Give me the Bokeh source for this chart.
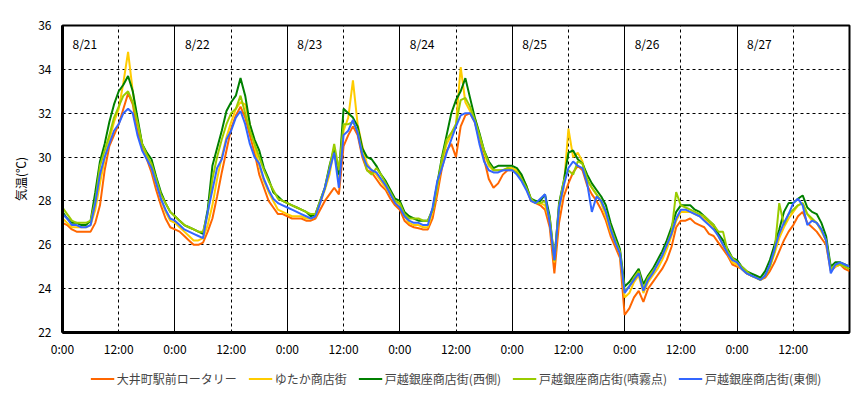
from bokeh.plotting import figure
from bokeh.models import Legend, LegendItem, FixedTicker, Grid, ColumnDataSource
from bokeh.layouts import column
from bokeh.core.properties import value
from bokeh.embed import file_html
from bokeh.resources import INLINE

FONT = "Noto Sans CJK JP"

# hours since 8/21 0:00
hours = list(range(0, 169))

days = ["8/21", "8/22", "8/23", "8/24", "8/25", "8/26", "8/27"]
tick_hours = list(range(0, 157, 12))
tick_labels = ["0:00" if h % 24 == 0 else "12:00" for h in tick_hours]

series_names = ["大井町駅前ロータリー", "ゆたか商店街", "戸越銀座商店街(西側)", "戸越銀座商店街(噴霧点)", "戸越銀座商店街(東側)"]
series_colors = ["#FF6600", "#FFCC00", "#008000", "#99CC00", "#3366FF"]

oimachi = [
    27.0, 26.9, 26.7, 26.6, 26.6, 26.6, 26.6, 27.0, 27.8, 29.4, 30.5, 31.0, 31.5, 32.2, 32.9, 32.4, 31.2, 30.5, 29.9, 29.3, 28.5, 27.8, 27.2, 26.8,
    26.7, 26.6, 26.4, 26.2, 26.0, 26.0, 26.1, 26.6, 27.2, 28.2, 29.3, 30.3, 31.3, 31.9, 32.3, 31.8, 31.0, 30.2, 29.2, 28.6, 28.0, 27.7, 27.4, 27.4,
    27.3, 27.2, 27.2, 27.2, 27.1, 27.1, 27.2, 27.6, 28.0, 28.3, 28.6, 28.3, 30.5, 31.0, 31.4, 31.0, 30.0, 29.4, 29.3, 29.0, 28.7, 28.5, 28.1, 27.8,
    27.6, 27.1, 26.9, 26.8, 26.75, 26.7, 26.7, 27.2, 28.3, 29.5, 30.3, 30.6, 30.0, 31.4, 31.9, 32.0, 31.6, 30.8, 29.9, 29.0, 28.6, 28.8, 29.2, 29.4,
    29.4, 29.3, 29.0, 28.6, 28.0, 27.9, 27.8, 27.6, 26.8, 24.7, 27.0, 28.2, 28.8, 29.3, 29.6, 29.4, 28.7, 28.3, 28.0, 27.6, 27.1, 26.4, 25.9, 25.4,
    22.8, 23.1, 23.6, 23.9, 23.4, 24.0, 24.3, 24.6, 24.9, 25.3, 25.9, 26.8, 27.1, 27.1, 27.2, 27.0, 26.9, 26.8, 26.5, 26.4, 26.1, 25.8, 25.5, 25.1,
    25.0, 24.9, 24.7, 24.6, 24.5, 24.4, 24.5, 24.8, 25.2, 25.7, 26.2, 26.6, 26.9, 27.3, 27.5, 27.0, 26.8, 26.6, 26.3, 26.0, 24.8, 25.0, 25.1, 24.9,
    24.8,
]

yutaka = [
    27.2, 27.0, 26.8, 26.8, 26.8, 26.8, 26.9, 27.6, 28.8, 29.9, 30.8, 31.6, 32.2, 33.4, 34.8, 33.0, 31.6, 30.6, 30.0, 29.5, 28.8, 28.1, 27.5, 27.1,
    27.0, 26.8, 26.6, 26.4, 26.2, 26.2, 26.3, 26.9, 27.8, 29.0, 30.0, 30.9, 31.6, 32.2, 32.5, 32.4, 31.5, 30.5, 29.6, 28.9, 28.4, 28.0, 27.6, 27.5,
    27.4, 27.3, 27.3, 27.3, 27.2, 27.2, 27.3, 27.9, 28.5, 29.2, 30.4, 29.0, 31.2, 31.8, 33.5, 31.5, 30.5, 29.7, 29.4, 29.2, 28.9, 28.6, 28.3, 28.0,
    27.8, 27.3, 27.0, 26.9, 26.9, 26.8, 26.8, 27.5, 28.6, 29.8, 30.6, 31.0, 31.5, 34.1, 32.5, 32.1, 31.8, 31.0, 30.2, 29.6, 29.4, 29.4, 29.4, 29.5,
    29.5, 29.4, 29.1, 28.7, 28.1, 27.9, 27.9, 27.8, 27.1, 25.2, 27.6, 28.6, 31.3, 30.0, 30.2, 29.8, 28.9, 28.6, 28.3, 27.9, 27.3, 26.6, 26.1, 25.6,
    23.6, 23.8, 24.3, 24.6, 23.8, 24.3, 24.6, 24.9, 25.3, 25.8, 26.4, 27.1, 27.5, 27.5, 27.5, 27.4, 27.3, 27.2, 27.0, 26.8, 26.4, 26.0, 25.6, 25.2,
    25.1, 24.9, 24.7, 24.6, 24.5, 24.4, 24.6, 25.0, 25.6, 26.3, 26.8, 27.2, 27.5, 27.8, 27.9, 27.4, 27.1, 27.0, 26.6, 26.2, 24.9, 25.0, 25.1, 25.0,
    24.9,
]

togoshi_west = [
    27.5, 27.2, 27.0, 27.0, 26.9, 26.9, 27.1, 28.4, 29.8, 30.6, 31.6, 32.4, 33.0, 33.3, 33.7, 33.0, 31.8, 30.6, 30.2, 29.9, 29.1, 28.4, 27.9, 27.5,
    27.3, 27.1, 26.9, 26.8, 26.7, 26.6, 26.5, 27.6, 29.6, 30.4, 31.2, 32.1, 32.5, 32.8, 33.6, 32.8, 31.5, 30.8, 30.3, 29.5, 29.0, 28.4, 28.2, 28.0,
    27.9, 27.8, 27.7, 27.6, 27.5, 27.3, 27.4, 28.0, 28.6, 29.6, 30.4, 29.2, 32.2, 32.0, 31.8, 31.4, 30.4, 30.0, 29.9, 29.6, 29.2, 28.9, 28.5, 28.1,
    28.0, 27.5, 27.3, 27.2, 27.1, 27.1, 27.1, 27.6, 28.8, 30.0, 31.0, 32.0, 32.6, 33.0, 33.6, 32.7, 31.8, 31.1, 30.3, 29.8, 29.5, 29.6, 29.6, 29.6,
    29.6, 29.5, 29.2, 28.7, 28.1, 28.0, 28.0, 28.3, 27.3, 25.3, 27.9, 28.9, 30.2, 30.3, 29.9, 29.7, 29.2, 28.8, 28.5, 28.2, 27.8, 27.0, 26.4, 25.8,
    24.1, 24.3, 24.6, 24.9, 24.2, 24.6, 24.9, 25.3, 25.7, 26.2, 26.8, 27.5, 27.8, 27.8, 27.8, 27.6, 27.5, 27.3, 27.1, 26.9, 26.5, 26.2, 25.8, 25.4,
    25.3, 25.0, 24.8, 24.7, 24.6, 24.5, 24.8, 25.3, 26.0, 26.7, 27.5, 27.9, 27.9, 28.1, 28.25, 27.7, 27.5, 27.4, 27.0, 26.4, 25.0, 25.2, 25.2, 25.1,
    25.0,
]

togoshi_mist = [
    27.7, 27.4, 27.1, 27.0, 27.0, 27.0, 27.1, 28.0, 29.6, 30.3, 31.0, 31.8, 32.3, 32.8, 33.0, 32.5, 31.6, 30.6, 30.1, 29.7, 29.0, 28.3, 27.9, 27.5,
    27.3, 27.1, 26.9, 26.8, 26.7, 26.6, 26.6, 27.4, 29.0, 30.0, 30.8, 31.5, 32.0, 32.2, 32.8, 32.0, 31.2, 30.6, 30.0, 29.4, 28.9, 28.5, 28.1, 28.0,
    27.9, 27.8, 27.7, 27.6, 27.5, 27.4, 27.4, 28.0, 28.6, 29.5, 30.6, 29.4, 31.5, 31.5, 31.6, 31.2, 30.2, 29.4, 29.2, 29.5, 29.2, 28.8, 28.4, 28.0,
    27.9, 27.4, 27.2, 27.2, 27.2, 27.1, 27.1, 27.6, 28.7, 29.9, 30.8, 31.1, 31.5, 32.6, 32.7, 32.3, 31.7, 31.0, 30.3, 29.7, 29.4, 29.4, 29.4, 29.5,
    29.4, 29.3, 29.0, 28.6, 28.1, 27.9, 27.9, 28.0, 27.2, 25.3, 27.8, 28.9, 29.4, 29.2, 29.8, 29.7, 29.0, 28.6, 28.3, 28.0, 27.5, 26.8, 26.2, 25.7,
    23.9, 24.1, 24.5, 24.8, 24.0, 24.5, 24.8, 25.1, 25.5, 26.0, 26.6, 28.4, 27.8, 27.7, 27.6, 27.5, 27.4, 27.3, 27.1, 26.9, 26.6, 26.6, 25.7, 25.4,
    25.2, 25.0, 24.8, 24.6, 24.5, 24.4, 24.6, 25.0, 25.7, 27.9, 26.9, 27.4, 27.6, 27.8, 27.9, 27.4, 27.2, 27.0, 26.7, 26.2, 24.9, 25.1, 25.1, 25.0,
    24.9,
]

togoshi_east = [
    27.4, 27.2, 26.9, 26.9, 26.8, 26.8, 26.9, 27.9, 29.2, 30.0, 30.6, 31.2, 31.5, 32.0, 32.2, 32.0, 31.0, 30.3, 29.9, 29.5, 28.8, 28.1, 27.6, 27.2,
    27.1, 26.9, 26.7, 26.6, 26.5, 26.4, 26.3, 27.5, 28.5, 29.5, 29.9, 30.8, 31.2, 31.8, 32.1, 31.5, 30.6, 30.0, 29.7, 29.0, 28.5, 28.1, 27.9, 27.8,
    27.7, 27.6, 27.5, 27.4, 27.3, 27.2, 27.3, 27.9, 28.6, 29.4, 30.2, 28.6, 31.0, 31.2, 31.7, 31.1, 30.1, 29.6, 29.4, 29.3, 29.0, 28.7, 28.3, 27.9,
    27.7, 27.3, 27.1, 27.0, 27.0, 26.9, 26.9, 27.7, 28.9, 29.5, 30.2, 30.8, 31.4, 31.9, 32.0, 32.0, 31.6, 30.6, 29.8, 29.4, 29.3, 29.3, 29.4, 29.4,
    29.4, 29.2, 28.9, 28.5, 28.0, 27.9, 28.1, 28.3, 27.0, 25.3, 27.7, 28.7, 29.5, 29.8, 29.6, 29.5, 28.8, 27.5, 28.2, 28.0, 27.5, 26.7, 26.1, 25.6,
    23.8, 24.1, 24.4, 24.7, 23.9, 24.4, 24.7, 25.1, 25.5, 26.0, 26.5, 27.2, 27.6, 27.6, 27.5, 27.4, 27.3, 27.1, 26.9, 26.7, 26.4, 26.0, 25.6, 25.3,
    25.2, 24.9, 24.7, 24.6, 24.5, 24.4, 24.6, 25.1, 25.8, 26.5, 27.0, 27.4, 27.9, 28.1, 27.8, 26.9, 27.1, 27.0, 26.7, 26.2, 24.7, 25.1, 25.2, 25.1,
    25.0,
]

series_values = [oimachi, yutaka, togoshi_west, togoshi_mist, togoshi_east]

p = figure(
    frame_width=787, frame_height=307,
    x_range=(0, 168), y_range=(22, 36),
    output_backend="svg", toolbar_location=None,
    min_border_left=62, min_border_top=25, min_border_right=15, min_border_bottom=26,
)
p.background_fill_color = "white"
p.border_fill_color = "white"
p.outline_line_color = "black"
p.outline_line_width = 2

# axes
p.xaxis.ticker = FixedTicker(ticks=tick_hours)
p.xaxis.major_label_overrides = {h: lab for h, lab in zip(tick_hours, tick_labels)}
p.xaxis.axis_label = None
p.yaxis.ticker = FixedTicker(ticks=list(range(22, 37, 2)))
for ax in (p.xaxis[0], p.yaxis[0]):
    ax.major_tick_out = 0
    ax.major_tick_in = 0
    ax.minor_tick_out = 0
    ax.minor_tick_in = 0
    ax.axis_line_color = "black"
    ax.axis_line_width = 3
    ax.major_label_text_font = FONT
    ax.major_label_text_font_size = "12px"
    ax.major_label_text_color = "black"
p.xaxis.major_label_standoff = 7
p.yaxis.major_label_standoff = 11
p.yaxis.axis_label = "気温(℃)"
p.yaxis.axis_label_text_font = FONT
p.yaxis.axis_label_text_font_size = "12px"
p.yaxis.axis_label_text_font_style = "normal"
p.yaxis.axis_label_text_color = "black"
p.yaxis.axis_label_standoff = 6

# grids
p.ygrid.ticker = FixedTicker(ticks=list(range(24, 35, 2)))
p.ygrid.grid_line_color = "black"
p.ygrid.grid_line_dash = "3 3"
p.ygrid.grid_line_width = 1
half_days = [h for h in tick_hours if h % 24 == 12]
day_starts = [h for h in tick_hours if h % 24 == 0 and h > 0]
p.xgrid.ticker = FixedTicker(ticks=half_days)
p.xgrid.grid_line_color = "black"
p.xgrid.grid_line_dash = "3 3"
p.xgrid.grid_line_width = 1
day_grid = Grid(dimension=0, ticker=FixedTicker(ticks=day_starts), grid_line_color="black", grid_line_width=1)
p.add_layout(day_grid)

# day labels
day_src = ColumnDataSource(dict(x=[i * 24 for i in range(len(days))], y=[36] * len(days), t=days))
p.text(x="x", y="y", text="t", source=day_src, x_offset=10, y_offset=9,
       text_baseline="top", text_align="left", text_font=value(FONT),
       text_font_size="12px", text_color="black")

for color, vals in zip(series_colors, series_values):
    p.line(hours, vals, line_color=color, line_width=2)

# legend strip (separate figure so it is not clipped by the plot frame);
# its lines carry the same data but lie outside this strip's view
lg = figure(width=864, height=38, output_backend="svg", toolbar_location=None,
            x_axis_type=None, y_axis_type=None, x_range=(0, 168), y_range=(0, 1),
            min_border_left=50, min_border_right=0, min_border_top=0, min_border_bottom=0)
lg.outline_line_color = None
lg.grid.visible = False
lg.background_fill_color = "white"
lg.border_fill_color = "white"
items = []
for name, color, vals in zip(series_names, series_colors, series_values):
    r = lg.line(hours, vals, line_color=color, line_width=2)
    items.append(LegendItem(label=name, renderers=[r]))
legend = Legend(items=items, orientation="horizontal", location="center",
                label_text_font=FONT, label_text_font_size="12px",
                glyph_width=24, glyph_height=12, label_standoff=3, spacing=11,
                border_line_color=None, background_fill_alpha=0, padding=2, margin=0)
lg.add_layout(legend)

layout = column(p, lg, spacing=0)
open("out.html", "w").write(file_html(layout, INLINE))
